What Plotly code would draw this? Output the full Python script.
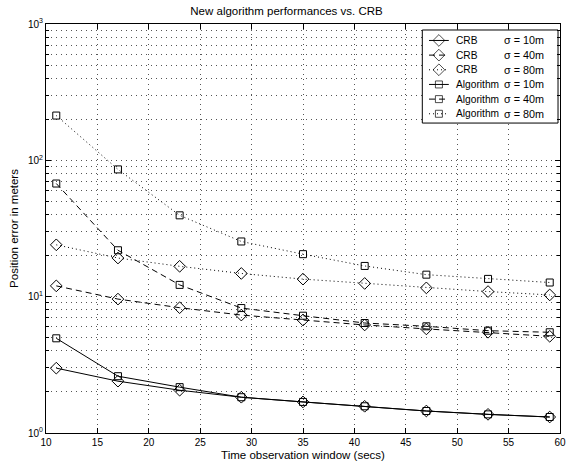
import plotly.graph_objects as go

x_vals = [11, 17, 23, 29, 35, 41, 47, 53, 59]

crb_10 = [2.99, 2.40, 2.06, 1.83, 1.69, 1.57, 1.45, 1.37, 1.31]
crb_40 = [12.0, 9.6, 8.3, 7.33, 6.74, 6.2, 5.8, 5.48, 5.12]
crb_80 = [24.0, 19.2, 16.7, 14.8, 13.45, 12.5, 11.6, 10.9, 10.3]
alg_10 = [4.95, 2.61, 2.17, 1.83, 1.69, 1.57, 1.45, 1.37, 1.31]
alg_40 = [67.6, 21.9, 12.2, 8.25, 7.25, 6.41, 6.06, 5.63, 5.48]
alg_80 = [213, 85.8, 39.5, 25.4, 20.5, 16.8, 14.5, 13.5, 12.7]

legend_methods = ["CRB", "CRB", "CRB", "Algorithm", "Algorithm", "Algorithm"]
legend_sigmas = ["σ = 10m", "σ = 40m", "σ = 80m", "σ = 10m", "σ = 40m", "σ = 80m"]
x_ticks = [10, 15, 20, 25, 30, 35, 40, 45, 50, 55, 60]
y_ticks = [1, 10, 100, 1000]
y_ticktext = ["10<sup>0</sup>", "10<sup>1</sup>", "10<sup>2</sup>", "10<sup>3</sup>"]

series = [crb_10, crb_40, crb_80, alg_10, alg_40, alg_80]
dashes = ["solid", "6px,4px", "1px,3px", "solid", "6px,4px", "1px,3px"]
symbols = ["diamond-open"] * 3 + ["square-open"] * 3
sizes = [9, 9, 9, 7, 7, 7]

fig = go.Figure()
for m, s, ys, dash, sym, sz in zip(legend_methods, legend_sigmas, series, dashes, symbols, sizes):
    fig.add_trace(go.Scatter(
        x=x_vals, y=ys, name=f"{m} {s}", mode="lines+markers", showlegend=False,
        line=dict(color="black", width=1, dash=dash),
        marker=dict(symbol=sym, size=sz, color="black", line=dict(width=1, color="black")),
    ))

# custom legend drawn in a pixel-space overlay axis (x2/y2)
L_X0, L_X1, L_Y0, L_Y1 = 426.7, 564.0, 30.0, 123.3
row_y0, row_step = 40.5, 14.7
samp_x = [433.5, 443.5, 453.5]
fig.add_trace(go.Scatter(
    x=[L_X0, L_X1, L_X1, L_X0, L_X0], y=[L_Y0, L_Y0, L_Y1, L_Y1, L_Y0],
    xaxis="x2", yaxis="y2", mode="lines", fill="toself", fillcolor="white",
    line=dict(color="black", width=1), showlegend=False, hoverinfo="skip",
))
annotations = []
for i, (m, s, dash, sym, sz) in enumerate(zip(legend_methods, legend_sigmas, dashes, symbols, sizes)):
    ry = row_y0 + i * row_step
    fig.add_trace(go.Scatter(
        x=samp_x, y=[ry] * 3, xaxis="x2", yaxis="y2", mode="lines+markers", showlegend=False,
        hoverinfo="skip",
        line=dict(color="black", width=1, dash=dash),
        marker=dict(symbol=sym, size=[0, sz, 0], color="black", line=dict(width=1, color="black")),
    ))
    annotations.append(dict(x=459, y=ry, xref="x2", yref="y2", text=m, showarrow=False,
                            xanchor="left", yanchor="middle", font=dict(size=10.2)))
    annotations.append(dict(x=507, y=ry, xref="x2", yref="y2", text=s, showarrow=False,
                            xanchor="left", yanchor="middle", font=dict(size=10.8)))

font = "Liberation Sans"
minor_vals = [mm * 10 ** k for k in range(0, 3) for mm in range(2, 10)]
gcol = "#555"
gdash = "1px,4px"

fig.update_layout(
    width=573, height=466,
    margin=dict(l=46, r=7, t=24, b=32),
    paper_bgcolor="white", plot_bgcolor="white",
    font=dict(family=font, size=10, color="black"),
    title=dict(text="New algorithm performances vs. CRB", x=0.5, xanchor="center",
               y=1 - 11 / 466, yanchor="middle", font=dict(size=11.5)),
    showlegend=False,
    annotations=annotations,
    xaxis=dict(range=[10, 60], tickvals=x_ticks, tickfont=dict(size=10),
               showline=True, linecolor="black", linewidth=1, mirror="ticks",
               ticks="inside", ticklen=5, tickcolor="black",
               showgrid=True, gridcolor=gcol, gridwidth=1, griddash=gdash,
               zeroline=False,
               title=dict(text="Time observation window (secs)", standoff=3, font=dict(size=11.5))),
    yaxis=dict(type="log", range=[0, 3],
               tickvals=y_ticks, ticktext=y_ticktext, tickfont=dict(size=10),
               showline=True, linecolor="black", linewidth=1, mirror="ticks",
               ticks="inside", ticklen=5, tickcolor="black",
               showgrid=True, gridcolor=gcol, gridwidth=1, griddash=gdash,
               zeroline=False,
               minor=dict(tickmode="array", tickvals=minor_vals, ticks="inside", ticklen=3,
                          tickcolor="black", showgrid=True, gridcolor=gcol,
                          griddash=gdash, gridwidth=1),
               title=dict(text="Position error in meters", standoff=6, font=dict(size=11.5))),
    xaxis2=dict(overlaying="x", range=[46, 566], visible=False, showgrid=False, zeroline=False),
    yaxis2=dict(overlaying="y", range=[434, 24], visible=False, showgrid=False, zeroline=False),
)

fig.write_html("out.html", config={"displayModeBar": False},
               post_script="document.body.style.margin='0';document.body.style.overflow='hidden';")
